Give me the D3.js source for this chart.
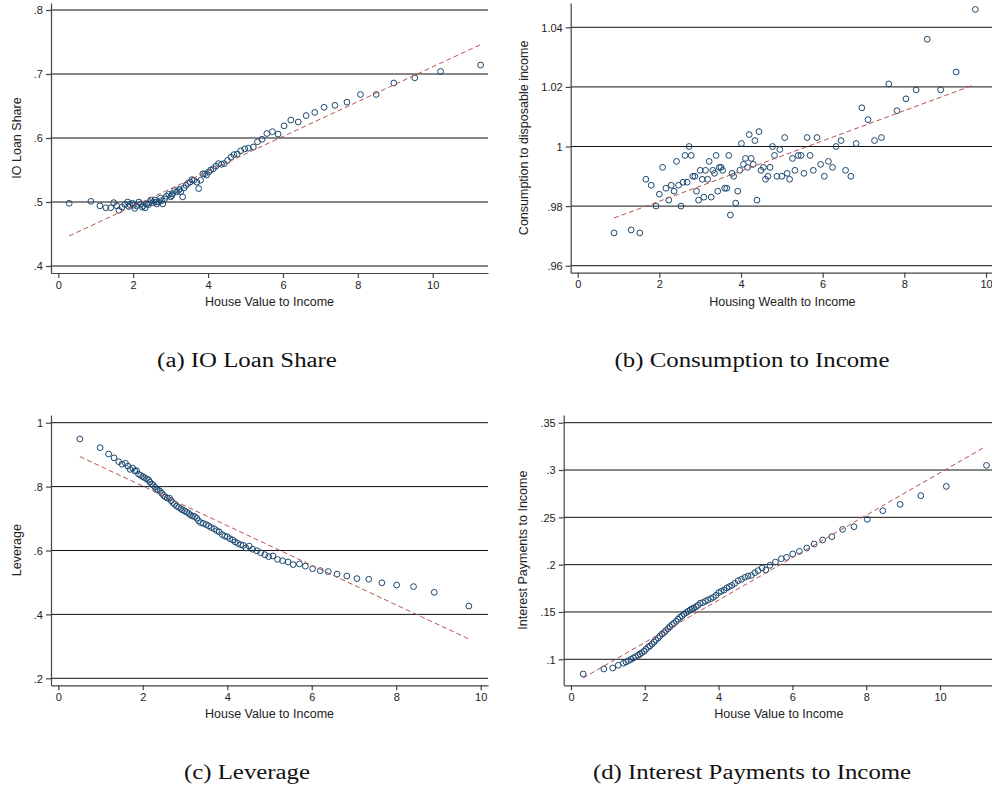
<!DOCTYPE html>
<html>
<head>
<meta charset="utf-8">
<script src="https://cdn.jsdelivr.net/npm/d3@7"></script>
<style>
  body { margin: 0; background: #fff; }
  svg { display: block; }
  .tick text { font-family: "Liberation Sans", Arial, sans-serif; font-size: 11px; fill: #222; }
  .axis path, .axis line { stroke: #444; stroke-width: 1.2; }
  .grid line { stroke: #111; stroke-width: 1; }
  .title { font-family: "Liberation Sans", Arial, sans-serif; font-size: 12.5px; fill: #222; }
  .caption { font-family: "Liberation Serif", "Times New Roman", serif; font-size: 20px; fill: #111; }
</style>
</head>
<body>
<svg id="chart" width="992" height="787"></svg>
<script>
// (a) IO loan share vs house value to income
var ioLoanPts = [
  [0.29,.498],[0.87,.501],[1.11,.494],[1.27,.491],[1.40,.491],[1.48,.499],[1.56,.494],[1.62,.487],
  [1.70,.492],[1.78,.496],[1.85,.500],[1.91,.496],[1.98,.498],[2.04,.490],[2.09,.494],[2.15,.500],
  [2.20,.497],[2.27,.494],[2.32,.491],[2.36,.497],[2.41,.496],[2.47,.503],[2.52,.499],[2.58,.503],
  [2.63,.497],[2.68,.500],[2.73,.506],[2.79,.497],[2.84,.505],[2.89,.509],[2.95,.512],[3.00,.508],
  [3.05,.513],[3.11,.518],[3.16,.516],[3.21,.518],[3.27,.516],[3.32,.508],[3.36,.522],[3.41,.526],
  [3.46,.529],[3.52,.531],[3.57,.535],[3.62,.534],[3.70,.531],[3.75,.521],[3.80,.534],[3.86,.544],
  [3.91,.544],[3.96,.542],[4.02,.547],[4.07,.550],[4.14,.552],[4.21,.556],[4.28,.560],[4.36,.559],
  [4.43,.560],[4.52,.565],[4.61,.570],[4.69,.574],[4.78,.575],[4.87,.580],[4.98,.583],[5.08,.584],
  [5.21,.586],[5.32,.594],[5.44,.598],[5.57,.607],[5.72,.610],[5.87,.606],[6.03,.619],[6.21,.628],
  [6.41,.625],[6.62,.635],[6.85,.640],[7.10,.648],[7.39,.651],[7.71,.656],[8.07,.668],[8.49,.668],
  [8.96,.686],[9.52,.694],[10.21,.704],[11.28,.714],
  [1.88,.493],[2.00,.495],[2.24,.492],[2.44,.499],[2.61,.500],[2.76,.502],[3.03,.510],[3.24,.520]
];
var ioLoanFit = [[0.29,.447],[11.28,.746]];

// (b) consumption to disposable income vs housing wealth to income
var consPts = [
  [0.89,.971],[1.31,.972],[1.52,.971],[1.67,.989],[1.80,.987],[1.92,.980],[2.00,.984],[2.08,.993],
  [2.16,.986],[2.23,.982],[2.29,.987],[2.36,.985],[2.42,.995],[2.47,.987],[2.53,.980],[2.58,.988],
  [2.63,.997],[2.68,.988],[2.73,1.000],[2.78,.997],[2.82,.990],[2.87,.990],[2.91,.985],[2.96,.982],
  [3.00,.992],[3.05,.989],[3.09,.983],[3.13,.992],[3.18,.989],[3.22,.995],[3.27,.983],[3.31,.992],
  [3.35,.991],[3.39,.997],[3.43,.985],[3.47,.993],[3.51,.993],[3.55,.992],[3.60,.986],[3.65,.986],
  [3.70,.997],[3.74,.977],[3.78,.991],[3.82,.990],[3.87,.981],[3.92,.985],[3.97,.992],[4.01,1.001],
  [4.06,.994],[4.11,.996],[4.16,.993],[4.20,1.004],[4.25,.996],[4.30,.994],[4.34,1.002],[4.39,.982],
  [4.44,1.005],[4.49,.992],[4.55,.993],[4.60,.989],[4.66,.990],[4.71,.993],[4.77,1.000],[4.82,.997],
  [4.88,.990],[4.95,.999],[5.00,.990],[5.07,1.003],[5.13,.991],[5.19,.989],[5.26,.996],[5.32,.992],
  [5.40,.997],[5.47,.997],[5.54,.991],[5.62,1.003],[5.69,.997],[5.77,.992],[5.86,1.003],[5.95,.994],
  [6.04,.990],[6.14,.995],[6.24,.993],[6.33,1.000],[6.45,1.002],[6.56,.992],[6.69,.990],[6.82,1.001],
  [6.96,1.013],[7.11,1.009],[7.27,1.002],[7.44,1.003],[7.62,1.021],[7.82,1.012],[8.04,1.016],[8.29,1.019],
  [8.56,1.036],[8.89,1.019],[9.27,1.025],[9.74,1.046]
];
var consFit = [[0.89,.976],[9.67,1.0205]];

// (c) leverage vs house value to income
var leveragePts = [
  [0.51,.949],[0.99,.922],[1.19,.902],[1.32,.890],[1.43,.878],[1.51,.870],[1.59,.873],[1.65,.864],
  [1.70,.854],[1.76,.858],[1.81,.849],[1.85,.850],[1.90,.839],[1.95,.835],[2.00,.831],[2.04,.828],
  [2.09,.824],[2.14,.821],[2.17,.814],[2.21,.808],[2.25,.804],[2.29,.798],[2.33,.791],[2.37,.789],
  [2.41,.785],[2.45,.779],[2.49,.773],[2.53,.768],[2.58,.764],[2.63,.764],[2.67,.756],[2.71,.750],
  [2.75,.745],[2.80,.739],[2.85,.735],[2.90,.731],[2.94,.727],[2.99,.724],[3.04,.720],[3.09,.716],
  [3.13,.711],[3.18,.708],[3.23,.706],[3.28,.701],[3.32,.693],[3.37,.687],[3.43,.685],[3.50,.681],
  [3.56,.677],[3.62,.672],[3.69,.668],[3.75,.662],[3.81,.658],[3.88,.650],[3.94,.645],[4.00,.643],
  [4.06,.637],[4.13,.633],[4.19,.627],[4.25,.622],[4.32,.618],[4.38,.616],[4.44,.608],[4.52,.614],
  [4.60,.604],[4.70,.599],[4.79,.593],[4.89,.587],[4.98,.581],[5.08,.583],[5.19,.572],[5.31,.568],
  [5.44,.564],[5.56,.556],[5.71,.558],[5.85,.551],[6.02,.543],[6.20,.537],[6.39,.534],[6.60,.526],
  [6.83,.520],[7.07,.512],[7.35,.510],[7.66,.499],[8.01,.492],[8.41,.487],[8.90,.469],[9.72,.426]
];
var leverageFit = [[0.51,.894],[9.72,.323]];

// (d) interest payments to income vs house value to income
var interestPts = [
  [0.33,.0845],[0.89,.0898],[1.13,.0908],[1.28,.0937],[1.42,.0958],[1.49,.0972],[1.56,.0986],[1.63,.1000],
  [1.69,.1014],[1.75,.1028],[1.82,.1042],[1.87,.1056],[1.92,.1070],[1.98,.1085],[2.03,.1106],[2.09,.1127],
  [2.14,.1141],[2.20,.1162],[2.25,.1183],[2.30,.1204],[2.36,.1225],[2.41,.1246],[2.47,.1268],[2.52,.1282],
  [2.57,.1303],[2.63,.1324],[2.68,.1345],[2.74,.1366],[2.79,.1380],[2.85,.1401],[2.90,.1423],[2.95,.1444],
  [3.01,.1458],[3.06,.1479],[3.12,.1493],[3.17,.1507],[3.23,.1521],[3.28,.1535],[3.33,.1542],[3.39,.1556],
  [3.44,.1570],[3.50,.1592],[3.57,.1599],[3.64,.1613],[3.71,.1627],[3.79,.1641],[3.86,.1655],[3.93,.1676],
  [4.00,.1704],[4.07,.1718],[4.15,.1732],[4.22,.1754],[4.29,.1768],[4.36,.1782],[4.44,.1803],[4.53,.1831],
  [4.62,.1845],[4.71,.1866],[4.80,.1880],[4.89,.1887],[4.98,.1915],[5.07,.1937],[5.18,.1965],[5.28,.1944],
  [5.39,.1993],[5.54,.2028],[5.70,.2063],[5.84,.2077],[6.01,.2113],[6.19,.2141],[6.39,.2176],[6.59,.2218],
  [6.82,.2261],[7.07,.2296],[7.36,.2373],[7.67,.2401],[8.03,.2479],[8.45,.2570],[8.92,.2637],[9.48,.2729],
  [10.17,.2827],[11.26,.3049]
];
var interestFit = [[0.33,.0803],[11.20,.324]];

// tick values
var xTicks = [0, 2, 4, 6, 8, 10];
var yTicksA = [.4, .5, .6, .7, .8];
var yTicksB = [.96, .98, 1, 1.02, 1.04];
var yTicksC = [.2, .4, .6, .8, 1];
var yTicksD = [.1, .15, .2, .25, .3, .35];

// panel layout: frame edges, plus pixel anchors for x=0 / x=10 and two y ticks
var panels = [
  { pts: ioLoanPts, fit: ioLoanFit, yTicks: yTicksA,
    xTitle: 'House Value to Income', yTitle: 'IO Loan Share', caption: '(a) IO Loan Share',
    left: 51, right: 488, top: 3, bottom: 273, x0: 58.3, x10: 432.7,
    yA: [.8, 10], yB: [.4, 266], capX: 247, capY: 367 },
  { pts: consPts, fit: consFit, yTicks: yTicksB,
    xTitle: 'Housing Wealth to Income', yTitle: 'Consumption to disposable income', caption: '(b) Consumption to Income',
    left: 570.7, right: 994, top: 3, bottom: 272.7, x0: 577.7, x10: 986,
    yA: [1.04, 27.3], yB: [.96, 265.7], capX: 752, capY: 367 },
  { pts: leveragePts, fit: leverageFit, yTicks: yTicksC,
    xTitle: 'House Value to Income', yTitle: 'Leverage', caption: '(c) Leverage',
    left: 51, right: 488, top: 415, bottom: 685.3, x0: 58.3, x10: 480.7,
    yA: [1, 422.7], yB: [.2, 678.3], capX: 247, capY: 779 },
  { pts: interestPts, fit: interestFit, yTicks: yTicksD,
    xTitle: 'House Value to Income', yTitle: 'Interest Payments to Income', caption: '(d) Interest Payments to Income',
    left: 563.7, right: 994, top: 415, bottom: 685.3, x0: 571, x10: 940,
    yA: [.35, 422.7], yB: [.1, 659.3], capX: 752, capY: 779 }
];

var svg = d3.select('#chart');

// Stata style labels: .8 instead of 0.8
function fmt(d) {
  return String(d).replace(/^0\./, '.');
}

panels.forEach(function(p) {
  var g = svg.append('g');

  var x = d3.scaleLinear().domain([0, 10]).range([p.x0, p.x10]);
  x.domain([x.invert(p.left), x.invert(p.right)]).range([p.left, p.right]);

  var y = d3.scaleLinear().domain([p.yA[0], p.yB[0]]).range([p.yA[1], p.yB[1]]);
  y.domain([y.invert(p.bottom), y.invert(p.top)]).range([p.bottom, p.top]);

  // horizontal grid lines
  g.append('g')
   .attr('class', 'grid')
   .selectAll('line')
   .data(p.yTicks)
   .enter()
   .append('line')
   .attr('x1', p.left)
   .attr('x2', p.right)
   .attr('y1', function(d){ return y(d); })
   .attr('y2', function(d){ return y(d); });

  // axes
  g.append('g')
   .attr('class', 'axis')
   .attr('transform', 'translate(0,' + p.bottom + ')')
   .call(d3.axisBottom(x).tickValues(xTicks).tickSize(5).tickSizeOuter(0).tickPadding(3).tickFormat(fmt));

  var yAxis = g.append('g')
   .attr('class', 'axis')
   .attr('transform', 'translate(' + p.left + ',0)')
   .call(d3.axisLeft(y).tickValues(p.yTicks).tickSize(5).tickSizeOuter(0).tickPadding(3).tickFormat(fmt));
  yAxis.selectAll('.tick text').attr('dy', '0.36em');

  // scatter
  g.append('g')
   .selectAll('circle')
   .data(p.pts)
   .enter()
   .append('circle')
   .attr('cx', function(d){ return x(d[0]); })
   .attr('cy', function(d){ return y(d[1]); })
   .attr('r', 2.9)
   .attr('fill', 'none')
   .attr('stroke', '#1a476f')
   .attr('stroke-width', 1);

  // linear fit
  g.append('path')
   .datum(p.fit)
   .attr('d', d3.line().x(function(d){ return x(d[0]); }).y(function(d){ return y(d[1]); }))
   .attr('fill', 'none')
   .attr('stroke', '#b5534f')
   .attr('stroke-width', 1)
   .attr('stroke-dasharray', '5,3');

  // axis titles
  g.append('text')
   .attr('class', 'title')
   .attr('x', (p.left + p.right) / 2)
   .attr('y', p.bottom + 33)
   .attr('text-anchor', 'middle')
   .text(p.xTitle);

  var labW = d3.max(yAxis.selectAll('.tick text').nodes(), function(n){ return n.getComputedTextLength(); });
  var ty = (p.top + p.bottom) / 2;
  var tx = p.left - 8 - labW - 13;
  g.append('text')
   .attr('class', 'title')
   .attr('transform', 'translate(' + tx + ',' + ty + ') rotate(-90)')
   .attr('text-anchor', 'middle')
   .text(p.yTitle);

  // subfigure caption, stretched toward Computer Modern width
  var cap = svg.append('text')
   .attr('class', 'caption')
   .attr('x', p.capX)
   .attr('y', p.capY)
   .attr('text-anchor', 'middle')
   .text(p.caption);
  var w = cap.node().getComputedTextLength();
  cap.attr('textLength', w * 1.24).attr('lengthAdjust', 'spacingAndGlyphs');
});
</script>
</body>
</html>
